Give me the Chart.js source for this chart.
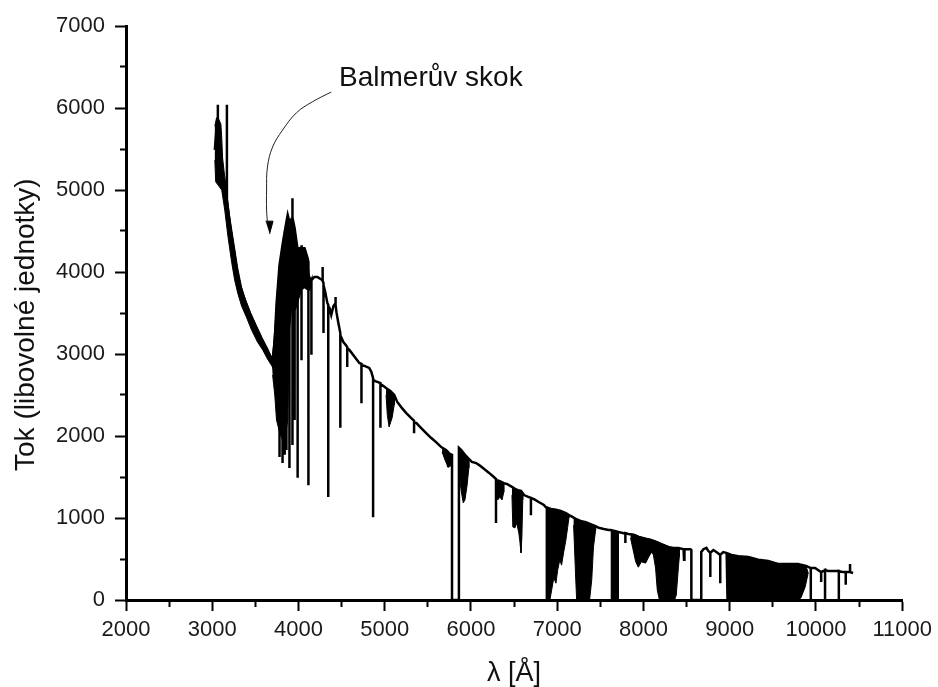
<!DOCTYPE html>
<html>
<head>
<meta charset="utf-8">
<script src="https://cdn.jsdelivr.net/npm/chart.js@4/dist/chart.umd.min.js"></script>
<style>
  html, body { margin: 0; padding: 0; background: #fff; }
  #wrap { width: 938px; height: 687px; }
</style>
</head>
<body>
<div id="wrap"><canvas id="spectrum" width="938" height="687"></canvas></div>
<script>
// spectrum: wavelength (A) and flux (arbitrary units)
const wave = [3030,3050,3065,3065,3065,3085,3110,3135,3155,3170,3170,3170,3190,3215,3250,3285,3320,3365,3435,3505,3570,3640,3690,3700,
  3725,3745,3780,3780,3780,3815,3815,3815,3840,3840,3840,3860,3860,3860,3875,3895,3895,3895,3930,3930,3930,3930,3955,3955,3955,
  3990,3990,3990,4010,4035,4035,4035,4070,4105,4115,4115,4115,4125,4150,4150,4150,4185,4220,4255,4280,4280,4280,4290,4290,4290,
  4310,4335,4345,4345,4345,4360,4380,4405,4430,4430,4430,4440,4460,4485,4485,4485,4520,4555,4565,4565,4565,4590,4650,4705,
  4730,4730,4730,4765,4820,4845,4865,4865,4865,4890,4915,4950,4950,4950,4985,5015,5065,5110,5145,5200,5250,5305,5340,5340,5340,
  5365,5420,5480,5540,5595,5655,5710,5735,5735,5735,5755,5780,5780,5860,5860,5885,5930,5975,6010,6060,6095,6150,6210,6265,
  6290,6290,6290,6335,6380,6415,6475,6510,6545,6580,6615,6670,6695,6695,6695,6730,6785,6845,6865,6925,6985,7040,7100,7155,
  7215,7270,7330,7385,7445,7480,7540,7595,7620,7710,7770,7790,7790,7790,7825,7885,7940,8000,8060,8115,8175,8230,8290,8345,
  8405,8465,8470,8475,8545,8555,8555,8670,8670,8695,8730,8750,8775,8775,8775,8810,8845,8890,8890,8890,8925,8960,9020,9100,
  9215,9330,9445,9560,9675,9790,9885,9940,9940,9940,9990,10060,10060,10060,10105,10105,10105,10140,10195,10265,10265,10265,
  10310,10345,10345,10345,10370,10395,10395,10395,10430];
const flux = [5490,5760,5610,6040,5370,5490,5240,5060,5000,5180,6040,4880,4700,4490,4270,4020,3840,3695,3500,3340,3195,3050,2930,2890,
  3170,3600,4085,1745,4085,4330,1670,4330,4490,1770,4490,4610,1830,4610,4695,4610,1610,4610,4660,4900,1890,4660,4535,2195,4535,
  4270,1490,4270,4290,4305,2925,4305,4290,4170,4120,1400,3965,3840,3900,2990,3900,3940,3940,3915,3900,4060,3890,3865,3255,3840,
  3755,3620,3600,1255,3585,3560,3475,3585,3620,3695,3600,3510,3390,3255,2100,3230,3145,3100,3085,2840,3075,3050,2965,2890,
  2880,2400,2865,2855,2830,2780,2705,1010,2685,2670,2660,2645,2100,2635,2610,2585,2550,2500,2415,2340,2280,2220,2185,2035,2170,
  2160,2100,2035,1975,1925,1865,1830,1805,1620,1795,1780,1770,0,0,1855,1830,1770,1720,1685,1670,1645,1600,1550,1500,
  1475,940,1465,1450,1425,1415,1380,1355,1340,1330,1280,1255,1245,1035,1245,1230,1195,1160,1135,1110,1100,1085,1060,1025,
  990,965,950,925,900,880,865,855,855,830,815,815,695,815,805,795,770,755,730,720,695,670,645,635,
  635,620,490,620,620,610,0,0,585,620,635,600,575,280,575,610,585,550,205,550,585,575,550,535,
  525,490,475,440,440,440,415,390,0,390,390,340,220,340,365,0,365,355,355,355,0,355,
  340,340,185,340,340,340,440,340,330];

// dense absorption regions, each an outline: upper edge left to right, lower edge back
const uvWave = [3030,3050,3075,3100,3110,3120,3155,3200,3250,3295,3340,3385,3445,3515,3585,3640,3700,3700,3640,3585,3525,3455,3400,3340,3295,3260,3225,3180,3145,3110,3075,3040,3030];
const uvFlux = [5780,5880,5865,5805,5635,5390,5060,4695,4355,4050,3815,3660,3500,3330,3170,3050,2950,2840,2940,3050,3145,3295,3440,3585,3745,3900,4120,4450,4755,5000,5050,5100,5365];
const balmerWave = [3690,3710,3735,3755,3780,3805,3825,3850,3875,3895,3920,3940,3965,3990,4010,4045,4080,4105,4125,4150,4150,4105,4070,4035,4000,3965,3930,3895,3875,3850,3815,3780,3745,3725,3700];
const balmerFlux = [2900,3110,3440,3780,4050,4270,4415,4535,4635,4585,4660,4535,4390,4270,4290,4305,4270,4170,3965,3900,3780,3780,3805,3780,3660,3535,3660,3295,2195,2010,1950,2050,2195,2500,2745];
const b5000Wave = [5015,5065,5110,5110,5085,5050,5030,5015];
const b5000Flux = [2585,2550,2500,2380,2220,2110,2255,2500];
const b5700Wave = [5665,5725,5780,5780,5735,5700,5665];
const b5700Flux = [1855,1815,1770,1645,1620,1705,1805];
const naWave = [5860,5895,5930,5975,5975,5955,5930,5910,5885,5860];
const naFlux = [1855,1815,1770,1720,1610,1400,1220,1185,1340,1585];
const b6300Wave = [6290,6335,6380,6380,6360,6335,6310,6290];
const b6300Flux = [1465,1450,1425,1315,1220,1255,1220,1280];
const haWave = [6475,6510,6545,6580,6600,6600,6590,6580,6565,6555,6530,6510,6485,6475];
const haFlux = [1380,1355,1340,1330,1305,1220,770,575,730,815,940,880,890,1280];
const bBandWave = [6865,6925,6985,7040,7100,7135,7135,7120,7100,7075,7050,7030,7005,6985,6960,6935,6915,6865];
const bBandFlux = [1135,1110,1100,1085,1060,1035,1000,880,730,585,425,490,365,205,270,120,0,0];
const b7200Wave = [7190,7250,7305,7365,7420,7445,7445,7420,7400,7375,7225,7215,7200,7190];
const b7200Flux = [1000,965,950,940,915,900,855,645,245,0,0,245,645,915];
const aBandWave = [7620,7665,7710,7710,7620];
const aBandFlux = [855,840,830,0,0];
const b8200Wave = [7850,7910,7965,8025,8080,8140,8195,8255,8310,8370,8415,8415,8405,8380,8360,8185,8160,8140,8115,8095,8060,8025,7975,7940,7910,7875,7850];
const b8200Flux = [805,795,770,755,745,720,695,670,645,635,635,525,400,60,0,0,120,390,550,585,525,450,465,400,465,635,755];
const b9500Wave = [8950,9020,9100,9215,9330,9445,9560,9675,9790,9885,9910,9875,9825,9790,8960];
const b9500Flux = [575,550,535,525,490,475,440,440,440,415,330,160,25,0,0];

// annotation arrow (curve + head) and label
const arrowWave = [4380,4160,3975,3815,3700,3640,3630,3630,3640];
const arrowFlux = [6195,6075,5940,5730,5525,5280,5000,4755,4610];
const headWave = [3620,3705,3665];
const headFlux = [4620,4620,4465];
const labelText = "Balmerův skok";
const labelAt = [4470, 6270];

const xTicks = [2000,3000,4000,5000,6000,7000,8000,9000,10000,11000];
const yTicks = [0,1000,2000,3000,4000,5000,6000,7000];

const pts = (xs, ys) => xs.map((x, i) => ({x: x, y: ys[i]}));

function band(xs, ys) {
  return {
    data: pts(xs, ys),
    borderColor: "#000",
    backgroundColor: "#000",
    borderWidth: 1,
    fill: "shape",
    pointRadius: 0
  };
}

const labelPlugin = {
  id: "balmerLabel",
  afterDatasetsDraw(chart) {
    const {ctx, scales} = chart;
    ctx.save();
    ctx.font = "28px 'Liberation Sans', Arial, sans-serif";
    ctx.fillStyle = "#111";
    ctx.textBaseline = "alphabetic";
    ctx.fillText(labelText, scales.x.getPixelForValue(labelAt[0]), scales.y.getPixelForValue(labelAt[1]));
    ctx.restore();
  }
};

Chart.defaults.font.family = "'Liberation Sans', Arial, sans-serif";
Chart.defaults.color = "#1a1a1a";

const ctx = document.getElementById("spectrum").getContext("2d");
new Chart(ctx, {
  type: "line",
  data: {
    datasets: [
      {
        data: pts(wave, flux),
        borderColor: "#000",
        borderWidth: 2.5,
        pointRadius: 0,
        fill: false
      },
      band(uvWave, uvFlux),
      band(balmerWave, balmerFlux),
      band(b5000Wave, b5000Flux),
      band(b5700Wave, b5700Flux),
      band(naWave, naFlux),
      band(b6300Wave, b6300Flux),
      band(haWave, haFlux),
      band(bBandWave, bBandFlux),
      band(b7200Wave, b7200Flux),
      band(aBandWave, aBandFlux),
      band(b8200Wave, b8200Flux),
      band(b9500Wave, b9500Flux),
      {
        data: pts(arrowWave, arrowFlux),
        borderColor: "#222",
        borderWidth: 1,
        tension: 0.4,
        pointRadius: 0,
        fill: false
      },
      band(headWave, headFlux)
    ]
  },
  options: {
    responsive: false,
    animation: false,
    events: [],
    layout: {
      padding: {top: 26, right: 33, left: 0, bottom: 0}
    },
    plugins: {
      legend: {display: false},
      tooltip: {enabled: false}
    },
    scales: {
      x: {
        type: "linear",
        min: 2000,
        max: 11000,
        afterFit: (scale) => { scale.height = 87; },
        ticks: {
          stepSize: 500,
          autoSkip: false,
          maxRotation: 0,
          padding: 6,
          font: {size: 22},
          callback: (v) => xTicks.includes(v) ? String(v) : ""
        },
        grid: {
          drawOnChartArea: false,
          tickLength: 11,
          tickWidth: 2,
          tickColor: "#000",
          tickBorderDash: (c) => (c.tick && c.tick.value % 1000) ? [5, 20] : []
        },
        border: {display: true, color: "#000", width: 3},
        title: {
          display: true,
          text: "λ [Å]",
          font: {size: 27, lineHeight: 1},
          padding: 0,
          color: "#111"
        }
      },
      y: {
        min: 0,
        max: 7000,
        afterFit: (scale) => { scale.width = 126; },
        ticks: {
          stepSize: 500,
          autoSkip: false,
          padding: 10,
          font: {size: 22},
          callback: (v) => yTicks.includes(v) ? String(v) : ""
        },
        grid: {
          drawOnChartArea: false,
          tickLength: 11,
          tickWidth: 2,
          tickColor: "#000",
          tickBorderDash: (c) => (c.tick && c.tick.value % 1000) ? [0, 5, 5, 0] : []
        },
        border: {display: true, color: "#000", width: 3},
        title: {
          display: true,
          // trailing spaces push the centred title a little lower, as in the original
          text: "Tok (libovolné jednotky)   ",
          font: {size: 28},
          padding: {top: 9},
          color: "#111"
        }
      }
    }
  },
  plugins: [labelPlugin]
});
</script>
</body>
</html>
